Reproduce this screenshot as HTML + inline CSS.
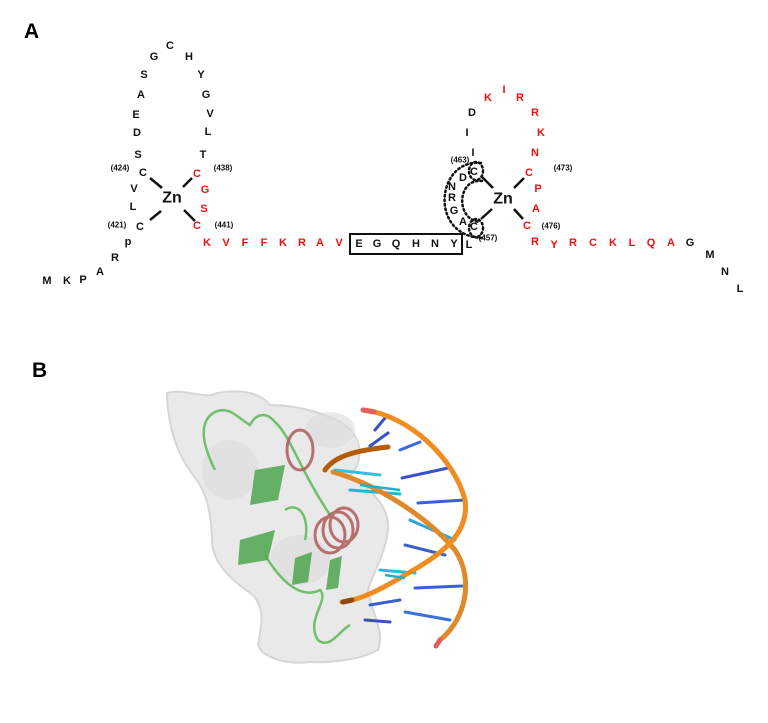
<!DOCTYPE html>
<html><head><meta charset="utf-8"><style>
html,body{margin:0;padding:0;background:#fff;}
svg{display:block;}
text{font-family:"Liberation Sans",Arial,sans-serif;font-weight:bold;}
.a{font-size:11px;text-anchor:middle;dominant-baseline:central;fill:#111;}
.r{fill:#f01010;}
.n{font-size:8px;text-anchor:middle;dominant-baseline:central;fill:#111;}
.zn{font-size:16px;text-anchor:middle;dominant-baseline:central;fill:#111;}
</style></head><body>
<svg width="768" height="723" viewBox="0 0 768 723" xmlns="http://www.w3.org/2000/svg">
<text x="24" y="38" style="font-size:21px">A</text>
<text x="32" y="377" style="font-size:21px">B</text>
<!-- left loop -->
<g class="a">
<text x="154" y="57" class="a">G</text><text x="170" y="46" class="a">C</text><text x="189" y="57" class="a">H</text>
<text x="144" y="75" class="a">S</text><text x="201" y="75" class="a">Y</text>
<text x="141" y="95" class="a">A</text><text x="206" y="95" class="a">G</text>
<text x="136" y="115" class="a">E</text><text x="210" y="114" class="a">V</text>
<text x="137" y="133" class="a">D</text><text x="208" y="132" class="a">L</text>
<text x="138" y="155" class="a">S</text><text x="203" y="155" class="a">T</text>
<text x="143" y="173" class="a">C</text><text x="197" y="174" class="a r">C</text>
<text x="134" y="189" class="a">V</text><text x="205" y="190" class="a r">G</text>
<text x="133" y="207" class="a">L</text><text x="204" y="209" class="a r">S</text>
<text x="140" y="227" class="a">C</text><text x="197" y="226" class="a r">C</text>
<text x="128" y="242" class="a">p</text><text x="115" y="258" class="a">R</text>
<text x="100" y="272" class="a">A</text><text x="83" y="280" class="a">P</text>
<text x="67" y="281" class="a">K</text><text x="47" y="281" class="a">M</text>
</g>
<text x="120" y="168" class="n">(424)</text><text x="223" y="168" class="n">(438)</text>
<text x="117" y="225" class="n">(421)</text><text x="224" y="225" class="n">(441)</text>
<text x="172" y="198" class="zn">Zn</text>
<g stroke="#111" stroke-width="2.5">
<line x1="150" y1="178" x2="162" y2="188"/><line x1="183" y1="187" x2="192" y2="178"/>
<line x1="150" y1="220" x2="161" y2="211"/><line x1="184" y1="210" x2="195" y2="221"/>
<line x1="482" y1="177" x2="493" y2="188"/><line x1="514" y1="188" x2="524" y2="178"/>
<line x1="481" y1="219" x2="492" y2="209"/><line x1="514" y1="209" x2="523" y2="219"/>
</g>
<!-- linker -->
<g class="a r">
<text x="207" y="243" class="a r">K</text><text x="226" y="243" class="a r">V</text><text x="245" y="243" class="a r">F</text><text x="264" y="243" class="a r">F</text>
<text x="283" y="243" class="a r">K</text><text x="302" y="243" class="a r">R</text><text x="320" y="243" class="a r">A</text><text x="339" y="243" class="a r">V</text>
</g>
<rect x="350" y="234" width="112" height="20" fill="none" stroke="#111" stroke-width="2"/>
<text x="359" y="244" class="a">E</text><text x="377" y="244" class="a">G</text><text x="396" y="244" class="a">Q</text>
<text x="416" y="244" class="a">H</text><text x="435" y="244" class="a">N</text><text x="454" y="244" class="a">Y</text>
<text x="469" y="245" class="a">L</text>
<!-- right finger -->
<text x="488" y="98" class="a r">K</text><text x="504" y="90" class="a r">I</text><text x="520" y="98" class="a r">R</text>
<text x="472" y="113" class="a">D</text><text x="535" y="113" class="a r">R</text>
<text x="467" y="133" class="a">I</text><text x="541" y="133" class="a r">K</text>
<text x="473" y="153" class="a">I</text><text x="535" y="153" class="a r">N</text>
<text x="474" y="172" class="a">C</text><text x="529" y="173" class="a r">C</text>
<text x="463" y="178" class="a">D</text><text x="452" y="187" class="a">N</text>
<text x="538" y="189" class="a r">P</text>
<text x="452" y="198" class="a">R</text><text x="454" y="211" class="a">G</text>
<text x="536" y="209" class="a r">A</text>
<text x="463" y="222" class="a">A</text><text x="474" y="227" class="a">C</text>
<text x="527" y="226" class="a r">C</text>
<text x="503" y="199" class="zn">Zn</text>
<text x="460" y="160" class="n">(463)</text><text x="563" y="168" class="n">(473)</text>
<text x="551" y="226" class="n">(476)</text><text x="488" y="238" class="n">(457)</text>
<text x="535" y="242" class="a r">R</text><text x="554" y="245" class="a r">Y</text><text x="573" y="243" class="a r">R</text>
<text x="593" y="243" class="a r">C</text><text x="613" y="243" class="a r">K</text><text x="632" y="243" class="a r">L</text>
<text x="651" y="243" class="a r">Q</text><text x="671" y="243" class="a r">A</text>
<text x="690" y="243" class="a">G</text><text x="710" y="255" class="a">M</text><text x="725" y="272" class="a">N</text><text x="740" y="289" class="a">L</text>
<g fill="none" stroke="#111" stroke-width="2.5" stroke-dasharray="1.5 3" stroke-linecap="round">
<path d="M481 163 C 436 158, 428 238, 484 238"/>
<path d="M482 181 C 457 178, 455 220, 480 222"/>
<ellipse cx="476" cy="171" rx="7" ry="9"/>
<ellipse cx="476" cy="228" rx="7" ry="9"/>
</g>
<!-- panel B -->
<path d="M167 393 C 185 388,205 400,217 393 C 245 388,262 395,270 405 C 300 405,330 415,345 425 C 365 440,362 465,350 475 C 370 490,390 505,388 530 C 385 555,372 575,368 590 C 372 615,385 630,378 650 C 360 660,330 663,310 662 C 285 665,262 657,258 645 C 262 620,265 610,253 595 C 228 578,210 560,212 535 C 210 505,205 490,193 475 C 178 455,168 430,167 393 Z" fill="#e9e9e9" stroke="#d6d6d6" stroke-width="2"/>
<g fill="#dcdcdc" opacity="0.6">
<ellipse cx="230" cy="470" rx="28" ry="30"/><ellipse cx="300" cy="560" rx="30" ry="25"/><ellipse cx="330" cy="430" rx="25" ry="18"/>
</g>
<g fill="none" stroke="#6fbf6f" stroke-width="2.5">
<path d="M215 470 C 200 440,200 420,215 412 C 230 405,240 420,250 425 C 255 415,265 410,275 422 C 290 435,300 470,330 515"/>
<path d="M265 555 C 280 580,300 600,320 590 C 330 600,305 620,318 640 C 330 650,340 630,350 625"/>
<path d="M285 510 C 300 500,310 520,305 540"/>
</g>
<g fill="#4fa54f" opacity="0.85">
<path d="M255 470 L 285 465 L 278 500 L 250 505 Z"/>
<path d="M240 540 L 275 530 L 268 560 L 238 565 Z"/>
<path d="M295 558 L 312 552 L 308 582 L 292 585 Z"/>
<path d="M330 560 L 342 556 L 338 588 L 326 590 Z"/>
</g>
<g fill="none" stroke="#b05a5a" stroke-width="3" opacity="0.85">
<ellipse cx="300" cy="450" rx="13" ry="20"/>
<ellipse cx="330" cy="535" rx="15" ry="18"/><ellipse cx="338" cy="530" rx="15" ry="18"/><ellipse cx="344" cy="525" rx="14" ry="17"/>
</g>
<g stroke-width="3" stroke-linecap="round">
<line x1="385" y1="418" x2="375" y2="430" stroke="#3a50c0"/>
<line x1="388" y1="433" x2="370" y2="446" stroke="#3050d0"/>
<line x1="400" y1="450" x2="420" y2="442" stroke="#3a6ae0"/>
<line x1="335" y1="470" x2="380" y2="475" stroke="#33c0e0"/>
<line x1="402" y1="478" x2="448" y2="468" stroke="#3a50d0"/>
<line x1="350" y1="490" x2="400" y2="494" stroke="#22b8d8"/>
<line x1="418" y1="503" x2="465" y2="500" stroke="#3a60d8"/>
<line x1="410" y1="520" x2="455" y2="540" stroke="#2aa8d8"/>
<line x1="405" y1="545" x2="445" y2="555" stroke="#3a60d0"/>
<line x1="380" y1="570" x2="415" y2="573" stroke="#22c0e0"/>
<line x1="415" y1="588" x2="462" y2="586" stroke="#3a60d8"/>
<line x1="370" y1="605" x2="400" y2="600" stroke="#3a60d0"/>
<line x1="405" y1="612" x2="450" y2="620" stroke="#3a70d8"/>
<line x1="365" y1="620" x2="390" y2="622" stroke="#3a50c0"/>
</g>
<g fill="none" stroke-linecap="round">
<path d="M333 472 C 380 485,430 520,455 550 C 475 580,465 620,440 640" stroke="#e0892a" stroke-width="5"/>
<path d="M363 410 C 410 415,455 460,465 500 C 470 535,440 555,405 575 C 380 590,360 600,342 602" stroke="#f08c20" stroke-width="5"/>
<path d="M325 470 C 335 455,360 450,388 447" stroke="#b55c08" stroke-width="5"/>
<path d="M343 602 L 352 600" stroke="#904a10" stroke-width="5"/>
<path d="M363 410 L 374 412" stroke="#e06060" stroke-width="5"/>
<path d="M440 640 L 436 646" stroke="#e06060" stroke-width="5"/>
</g>
<g stroke="#20b0c8" stroke-width="2.5">
<line x1="360" y1="485" x2="400" y2="490"/><line x1="385" y1="575" x2="405" y2="578"/>
</g>
</svg>
</body></html>
